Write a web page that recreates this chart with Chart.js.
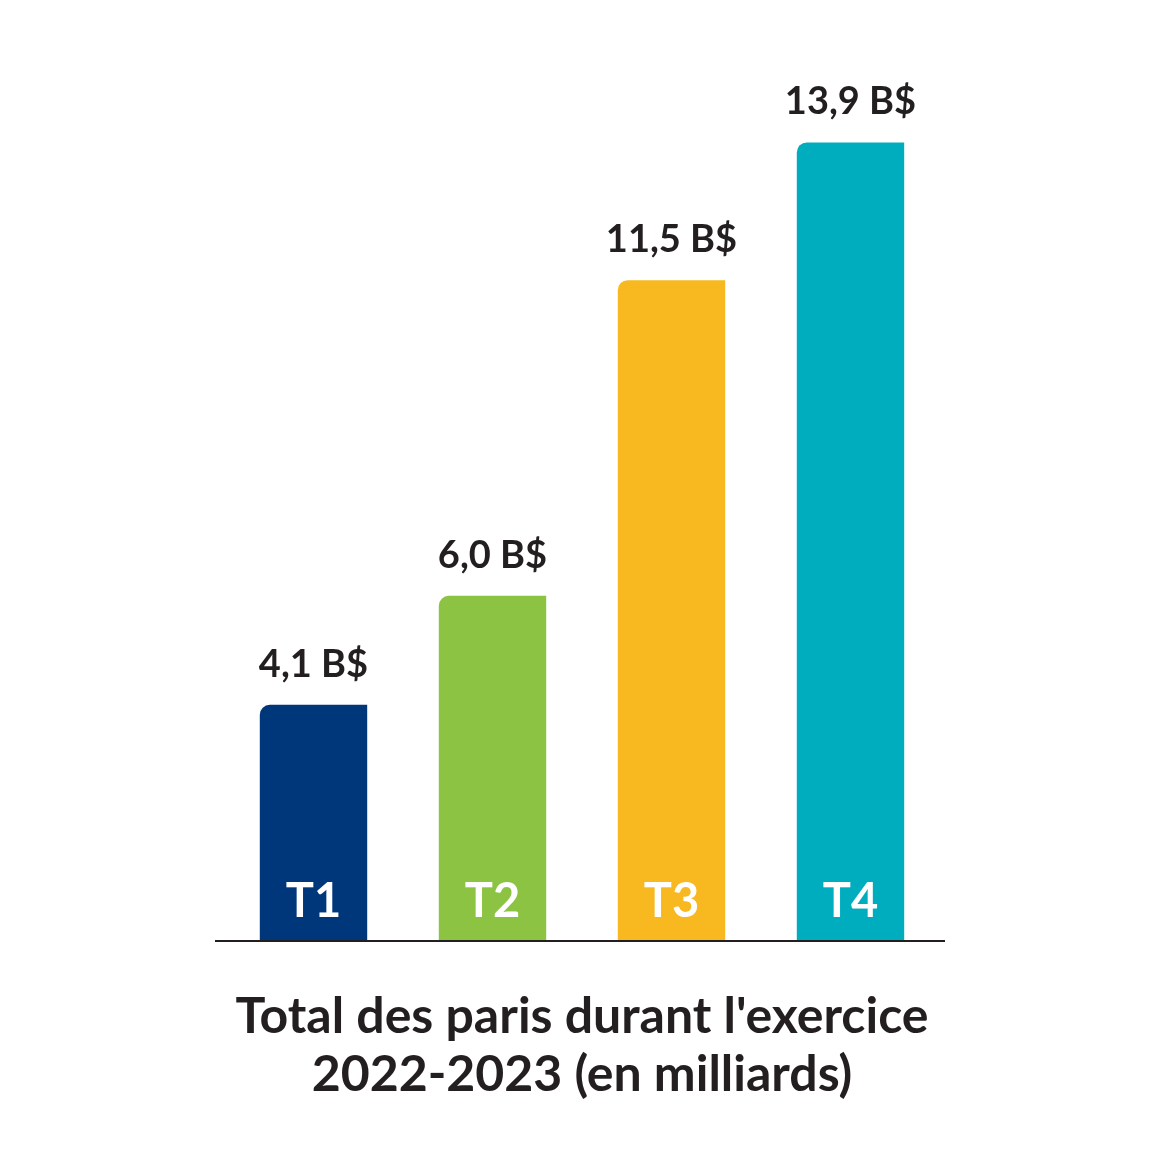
<!DOCTYPE html>
<html>
<head>
<meta charset="utf-8">
<script src="https://cdn.jsdelivr.net/npm/chart.js@4"></script>
<style>
    html, body { margin: 0; padding: 0; background: #ffffff; }
    #wrap { width: 1170px; height: 1170px; }
</style>
</head>
<body>
<div id="wrap"><canvas id="series_paris" width="1170" height="1170"></canvas></div>
<script>
const categories = ['T1', 'T2', 'T3', 'T4'];
const values = [4.1, 6.0, 11.5, 13.9];
const colours = ['#00367a', '#8cc342', '#f8b81f', '#00adbe'];
const titleLines = ["Total des paris durant l'exercice", '2022-2023 (en milliards)'];

(function(){

    const textColour = '#231f20';

    function formatValue(v) {
        return v.toFixed(1).replace('.', ',') + ' B$';
    }

    const barLabels = {
        id: 'barLabels',
        afterDatasetsDraw(chart) {
            const ctx = chart.ctx;
            const meta = chart.getDatasetMeta(0);
            const area = chart.chartArea;
            ctx.save();
            ctx.textAlign = 'center';
            ctx.textBaseline = 'alphabetic';
            meta.data.forEach((bar, i) => {
                ctx.fillStyle = textColour;
                ctx.font = 'bold 38px Lato';
                ctx.fillText(formatValue(values[i]), bar.x, bar.y - 28);
                ctx.fillStyle = '#ffffff';
                ctx.font = 'bold 47px Lato';
                ctx.fillText(categories[i], bar.x, area.bottom - 23);
            });
            // base line
            ctx.strokeStyle = textColour;
            ctx.lineWidth = 2;
            ctx.beginPath();
            ctx.moveTo(area.left - 9, area.bottom + 1);
            ctx.lineTo(area.right + 5, area.bottom + 1);
            ctx.stroke();
            ctx.restore();
        }
    };

    const el = document.getElementById('series_paris').getContext('2d');
    const myChart = new Chart(el, {
        type: 'bar',
        data: {
            labels: categories,
            datasets: [{
                data: values,
                backgroundColor: colours,
                borderWidth: 0,
                borderSkipped: 'bottom',
                borderRadius: { topLeft: 10, topRight: 0, bottomLeft: 0, bottomRight: 0 },
                barPercentage: 0.6,
                categoryPercentage: 1
            }]
        },
        options: {
            responsive: false,
            animation: false,
            devicePixelRatio: 1,
            layout: {
                padding: { top: 108, left: 224, right: 230, bottom: 66 }
            },
            plugins: {
                legend: { display: false },
                tooltip: { enabled: false },
                title: {
                    display: true,
                    position: 'bottom',
                    text: titleLines,
                    color: textColour,
                    font: { family: 'Lato', size: 50, weight: 'bold', lineHeight: 1.16 },
                    padding: { top: 48, bottom: 0 }
                }
            },
            scales: {
                x: { display: false },
                y: { display: false, min: 0, max: 14.5 }
            }
        },
        plugins: [barLabels]
    });
})();
</script>
</body>
</html>
